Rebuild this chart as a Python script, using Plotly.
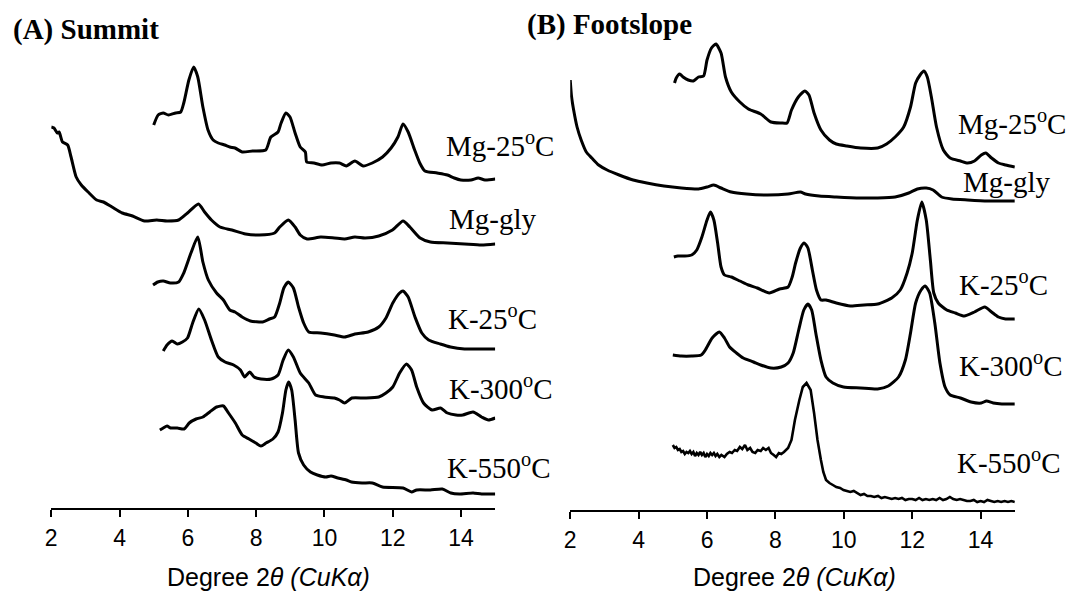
import plotly.graph_objects as go

# ---------------- (A) Summit : 2-theta (deg) and stacked intensity (a.u.) ----------------
A_MG25_2T = [5.0, 5.13, 5.28, 5.43, 5.64, 5.79, 5.88, 6.03, 6.17, 6.29, 6.44, 6.59, 6.74, 6.89, 7.08, 7.23,
             7.38, 7.59, 7.89, 8.28, 8.43, 8.64, 8.73, 8.87, 8.99, 9.14, 9.29, 9.44, 9.48, 9.69, 9.93, 10.19,
             10.44, 10.64, 10.89, 11.13, 11.40, 11.70, 11.95, 12.15, 12.30, 12.45, 12.64, 12.79, 12.94, 13.30,
             13.60, 13.80, 13.99, 14.29, 14.50, 14.70, 15.0]
A_MG25_I = [383, 393, 395, 393, 395, 396, 405, 428, 441, 431, 401, 378, 368, 365, 363, 361, 360, 356, 357, 358,
            371, 376, 385, 395, 391, 375, 361, 356, 346, 345, 343, 345, 345, 342, 347, 342, 345, 351, 360, 371,
            384, 376, 358, 345, 337, 335, 333, 330, 328, 328, 330, 328, 329]

A_MGGLY_2T = [2.0, 2.08, 2.18, 2.23, 2.33, 2.48, 2.58, 2.73, 2.88, 3.08, 3.33, 3.53, 3.78, 4.08, 4.38, 4.73,
              5.09, 5.39, 5.73, 5.99, 6.31, 6.49, 6.69, 6.94, 7.29, 7.69, 8.09, 8.54, 8.69, 8.94, 9.14, 9.29,
              9.49, 9.89, 10.29, 10.59, 10.89, 11.19, 11.59, 11.99, 12.30, 12.50, 12.80, 13.10, 13.60, 14.10,
              14.60, 15.0]
A_MGGLY_I = [381, 380, 375, 376, 366, 363, 351, 331, 323, 316, 308, 306, 301, 295, 292, 287, 288, 287, 288, 295,
             304, 296, 288, 281, 278, 274, 273, 275, 281, 288, 281, 273, 269, 271, 270, 269, 271, 270, 272, 278,
             287, 281, 270, 266, 265, 264, 263, 264]

A_K25_2T = [4.98, 5.12, 5.28, 5.49, 5.73, 5.88, 6.09, 6.29, 6.44, 6.60, 6.84, 7.04, 7.23, 7.38, 7.59, 7.83,
            8.19, 8.39, 8.54, 8.69, 8.81, 8.94, 9.09, 9.24, 9.39, 9.54, 9.89, 10.29, 10.59, 10.89, 11.28, 11.59,
            11.80, 12.00, 12.20, 12.30, 12.45, 12.65, 12.85, 13.05, 13.39, 13.69, 14.10, 14.60, 15.0]
A_K25_I = [223, 226, 227, 225, 226, 235, 255, 271, 246, 228, 215, 208, 198, 196, 191, 187, 186, 189, 191, 205,
           220, 226, 220, 201, 185, 176, 175, 173, 171, 174, 176, 181, 190, 205, 215, 217, 211, 191, 175, 168,
           164, 161, 159, 159, 159]

A_K300_2T = [5.28, 5.39, 5.54, 5.69, 5.84, 5.99, 6.14, 6.32, 6.49, 6.69, 6.89, 7.09, 7.34, 7.54, 7.66, 7.81,
             7.94, 8.14, 8.44, 8.64, 8.79, 8.94, 9.09, 9.29, 9.54, 9.74, 9.99, 10.29, 10.44, 10.59, 10.80, 11.19,
             11.59, 11.80, 12.00, 12.20, 12.40, 12.55, 12.70, 12.90, 13.15, 13.40, 13.60, 13.85, 14.05, 14.35,
             14.60, 14.80, 15.0]
A_K300_I = [157, 163, 167, 164, 166, 170, 185, 199, 188, 168, 151, 146, 143, 138, 131, 136, 131, 129, 129, 133,
            148, 158, 151, 135, 125, 113, 111, 110, 108, 105, 110, 110, 111, 115, 121, 135, 144, 138, 121, 105,
            98, 100, 95, 93, 93, 96, 91, 88, 90]

A_K550_2T = [5.18, 5.28, 5.39, 5.49, 5.69, 5.89, 6.04, 6.24, 6.44, 6.64, 6.84, 7.04, 7.19, 7.39, 7.59, 7.79,
             7.99, 8.14, 8.29, 8.49, 8.64, 8.77, 8.87, 8.95, 9.04, 9.14, 9.24, 9.39, 9.59, 9.79, 10.04, 10.19,
             10.39, 10.64, 10.79, 11.10, 11.40, 11.70, 12.30, 12.55, 12.70, 13.10, 13.45, 13.70, 13.95, 14.35,
             14.60, 15.0]
A_K550_I = [78, 80, 82, 80, 80, 79, 85, 89, 91, 96, 101, 102, 95, 85, 73, 69, 65, 62, 65, 69, 76, 95, 118, 126,
            118, 88, 55, 43, 36, 33, 31, 32, 30, 28, 26, 25, 25, 21, 20, 16, 18, 18, 19, 15, 14, 15, 14, 14]

# ---------------- (B) Footslope ----------------
B_MG25_2T = [5.05, 5.10, 5.20, 5.30, 5.45, 5.60, 5.75, 5.90, 6.00, 6.13, 6.26, 6.41, 6.54, 6.71, 6.96, 7.21,
             7.57, 7.87, 8.17, 8.34, 8.47, 8.67, 8.86, 8.98, 9.13, 9.33, 9.58, 9.78, 10.09, 10.49, 10.99, 11.25,
             11.50, 11.75, 11.95, 12.10, 12.23, 12.34, 12.44, 12.56, 12.71, 12.91, 13.11, 13.41, 13.62, 13.82,
             14.02, 14.15, 14.32, 14.52, 14.73, 15.0]
B_MG25_I = [427, 432, 436, 433, 430, 429, 433, 434, 450, 462, 466, 457, 433, 418, 408, 401, 396, 388, 387, 387,
            400, 413, 419, 415, 397, 380, 370, 366, 364, 362, 362, 366, 373, 383, 403, 427, 435, 439, 433, 413,
            383, 360, 352, 349, 347, 349, 355, 357, 352, 347, 345, 343]

B_MGGLY_2T = [2.0, 2.04, 2.10, 2.20, 2.32, 2.47, 2.63, 2.83, 3.08, 3.43, 3.84, 4.24, 4.74, 5.25, 5.75, 6.00,
              6.20, 6.41, 6.71, 7.16, 7.77, 8.37, 8.73, 8.88, 9.28, 9.78, 10.49, 10.99, 11.50, 11.90, 12.15,
              12.41, 12.61, 12.86, 13.16, 13.62, 14.22, 15.0]
B_MGGLY_I = [430, 413, 400, 383, 370, 358, 352, 345, 340, 335, 330, 327, 324, 322, 321, 323, 325, 322, 318, 316,
             315, 316, 318, 316, 314, 313, 312, 312, 313, 317, 321, 322, 320, 313, 311, 310, 309, 309]

B_K25_2T = [5.03, 5.15, 5.35, 5.55, 5.70, 5.85, 6.00, 6.10, 6.20, 6.31, 6.41, 6.51, 6.71, 6.96, 7.21, 7.47,
            7.82, 8.12, 8.37, 8.49, 8.59, 8.73, 8.84, 8.95, 9.08, 9.20, 9.33, 9.48, 9.78, 10.19, 10.59, 10.99,
            11.40, 11.65, 11.85, 12.00, 12.15, 12.28, 12.41, 12.53, 12.63, 12.76, 13.01, 13.26, 13.52, 13.82,
            14.12, 14.32, 14.52, 14.73, 15.0]
B_K25_I = [253, 254, 254, 255, 260, 273, 290, 298, 290, 267, 243, 235, 233, 229, 225, 222, 217, 221, 223, 233,
           247, 262, 267, 262, 240, 220, 210, 210, 207, 204, 205, 206, 212, 220, 237, 257, 290, 308, 290, 250,
           217, 207, 200, 197, 194, 198, 203, 198, 193, 191, 191]

B_K300_2T = [5.00, 5.25, 5.55, 5.83, 5.95, 6.15, 6.36, 6.51, 6.66, 6.86, 7.06, 7.36, 7.57, 7.87, 8.17, 8.37,
             8.52, 8.68, 8.83, 8.95, 9.06, 9.18, 9.33, 9.48, 9.68, 9.99, 10.49, 10.99, 11.30, 11.60, 11.80,
             11.95, 12.10, 12.26, 12.38, 12.51, 12.66, 12.81, 12.96, 13.11, 13.41, 13.72, 14.02, 14.17, 14.37,
             14.62, 15.0]
B_K300_I = [155, 154, 154, 155, 160, 172, 178, 172, 163, 157, 152, 148, 145, 142, 143, 147, 157, 180, 200, 206,
            200, 177, 150, 133, 127, 123, 122, 121, 124, 133, 150, 177, 207, 220, 224, 217, 187, 147, 123, 115,
            112, 108, 107, 109, 107, 106, 106]

# K-550 footslope scan is noisy, so it is kept at a finer step
B_K550_2T = [5.00, 5.05, 5.10, 5.15, 5.20, 5.25, 5.30, 5.35, 5.40, 5.45, 5.50, 5.55, 5.60, 5.65, 5.70, 5.75,
             5.80, 5.85, 5.90, 5.95, 6.00, 6.05, 6.10, 6.15, 6.20, 6.25, 6.30, 6.36, 6.42, 6.51, 6.58, 6.66,
             6.73, 6.81, 6.88, 6.96, 7.03, 7.11, 7.18, 7.26, 7.33, 7.41, 7.48, 7.57, 7.64, 7.72, 7.80, 7.87,
             7.95, 8.02, 8.10, 8.17, 8.25, 8.32, 8.37, 8.47, 8.57, 8.70, 8.80, 8.91, 9.03, 9.13, 9.23, 9.33,
             9.40, 9.48, 9.58, 9.68, 9.78, 9.89, 9.99, 10.09, 10.19, 10.29, 10.39, 10.49, 10.59, 10.69, 10.79,
             10.89, 11.00, 11.10, 11.20, 11.30, 11.40, 11.50, 11.60, 11.70, 11.80, 11.90, 12.00, 12.10, 12.20,
             12.30, 12.40, 12.50, 12.60, 12.70, 12.80, 12.90, 13.00, 13.10, 13.20, 13.30, 13.40, 13.50, 13.60,
             13.70, 13.80, 13.90, 14.00, 14.10, 14.20, 14.30, 14.40, 14.50, 14.60, 14.70, 14.80, 14.90, 15.00]
B_K550_I = [65, 62, 63, 60, 61, 58, 59, 56, 58, 57, 59, 56, 58, 54, 57, 55, 58, 55, 57, 53, 56, 54, 57, 55, 57,
            54, 56, 53, 55, 53, 56, 58, 57, 60, 59, 63, 61, 65, 60, 62, 58, 57, 60, 59, 62, 60, 62, 57, 55, 53,
            57, 56, 58, 60, 62, 70, 90, 110, 123, 127, 120, 97, 70, 50, 38, 30, 27, 25, 23, 22, 20, 19, 18, 19,
            17, 15, 16, 14, 14, 13, 14, 12, 13, 12, 11, 12, 11, 12, 10, 11, 11, 10, 12, 10, 11, 10, 11, 10, 12,
            10, 11, 13, 11, 10, 11, 10, 9, 9, 10, 8, 9, 8, 10, 9, 8, 9, 8, 9, 8, 9, 8]

TREATMENTS = ["Mg-25<sup>o</sup>C", "Mg-gly", "K-25<sup>o</sup>C", "K-300<sup>o</sup>C", "K-550<sup>o</sup>C"]
TICKS = [2, 4, 6, 8, 10, 12, 14]

SERIF = "Liberation Serif, Times New Roman, serif"
SANS = "Liberation Sans, Arial, sans-serif"
LINE_W = 3.0

panels = {
    "A": {"xaxis": "x", "yaxis": "y",
          "curves": [(A_MG25_2T, A_MG25_I), (A_MGGLY_2T, A_MGGLY_I), (A_K25_2T, A_K25_I),
                     (A_K300_2T, A_K300_I), (A_K550_2T, A_K550_I)],
          "label_pos": [(13.51, 364), (13.60, 289), (13.56, 191), (13.60, 121), (13.54, 42)]},
    "B": {"xaxis": "x2", "yaxis": "y2",
          "curves": [(B_MG25_2T, B_MG25_I), (B_MGGLY_2T, B_MGGLY_I), (B_K25_2T, B_K25_I),
                     (B_K300_2T, B_K300_I), (B_K550_2T, B_K550_I)],
          "label_pos": [(13.28, 388), (13.44, 328), (13.30, 227), (13.30, 146), (13.24, 49)]},
}

fig = go.Figure()
annotations = []
for key, p in panels.items():
    for i, (tt, inten) in enumerate(p["curves"]):
        noisy = (key == "B" and i == 4)
        fig.add_trace(go.Scatter(
            x=tt, y=inten, mode="lines", xaxis=p["xaxis"], yaxis=p["yaxis"],
            line=dict(color="black", width=2.6 if noisy else LINE_W,
                      shape="linear" if noisy else "spline", smoothing=0.6),
            cliponaxis=False, showlegend=False, hoverinfo="skip"))
        lx, ly = p["label_pos"][i]
        annotations.append(dict(
            x=lx, y=ly, xref=p["xaxis"], yref=p["yaxis"], text=TREATMENTS[i],
            showarrow=False, xanchor="left", yanchor="middle",
            font=dict(family=SERIF, size=29, color="black")))

# panel titles
annotations.append(dict(x=5 / 1073, y=1 - 29 / 594, xref="paper", yref="paper", text="<b>(A) Summit</b>",
                        showarrow=False, xanchor="left", yanchor="middle",
                        font=dict(family=SERIF, size=29, color="black")))
annotations.append(dict(x=522 / 1073, y=1 - 24.5 / 594, xref="paper", yref="paper",
                        text="<b>(B) Footslope</b>", showarrow=False, xanchor="left", yanchor="middle",
                        font=dict(family=SERIF, size=29, color="black")))

# axis titles
for cx in (263.5, 793):
    annotations.append(dict(x=cx / 1073, y=1 - 577 / 594, xref="paper", yref="paper",
                            text="Degree 2<i>θ (CuKα)</i>", showarrow=False,
                            xanchor="center", yanchor="middle",
                            font=dict(family=SANS, size=25, color="black")))

xaxis_style = dict(range=[2, 15], tickvals=TICKS, ticktext=[str(t) for t in TICKS],
                   showline=True, linecolor="black", linewidth=1.6, ticks="outside",
                   ticklen=7, tickwidth=1.5, tickcolor="black", showgrid=False, zeroline=False,
                   ticklabelstandoff=2, tickfont=dict(family=SANS, size=23, color="black"),
                   fixedrange=True)
yaxis_style = dict(visible=False, showgrid=False, zeroline=False, fixedrange=True)

fig.update_layout(
    width=1073, height=594, margin=dict(l=0, r=0, t=0, b=0),
    paper_bgcolor="white", plot_bgcolor="white",
    xaxis=dict(domain=[45.5 / 1073, 492 / 1073], anchor="y", **xaxis_style),
    xaxis2=dict(domain=[567.4 / 1073, 1014.5 / 1073], anchor="y2", **xaxis_style),
    yaxis=dict(domain=[(594 - 508) / 594, 1], range=[0, 508], anchor="x", **yaxis_style),
    yaxis2=dict(domain=[(594 - 510) / 594, 1], range=[0, 510], anchor="x2", **yaxis_style),
    annotations=annotations,
)

fig.write_html("out.html")
